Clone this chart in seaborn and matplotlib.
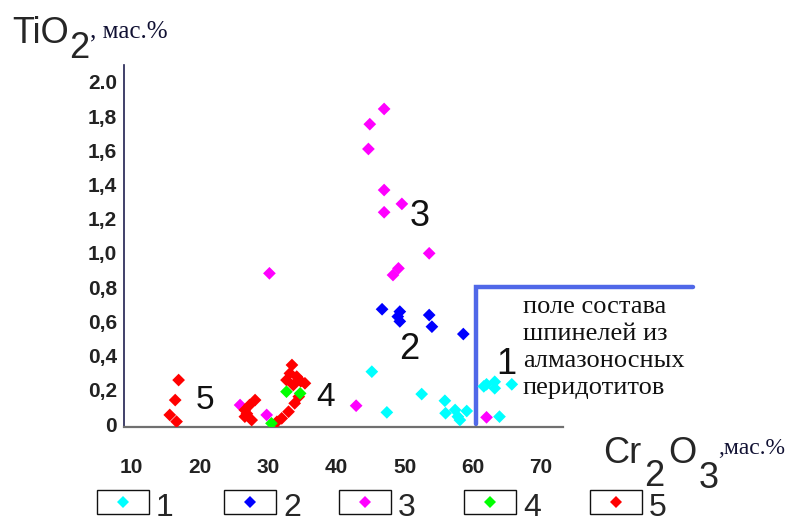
import numpy as np
import pandas as pd
import matplotlib
matplotlib.use("Agg")
import matplotlib.pyplot as plt
import seaborn as sns
from matplotlib.patches import Rectangle
from matplotlib.lines import Line2D

# Cr2O3 (x) and TiO2 (y), wt%
cr_1 = [45.2, 47.4, 52.5, 55.9, 56.0, 57.4, 57.8, 59.1, 58.1, 62.0, 63.2, 63.2, 65.7, 63.9, 61.6]
ti_1 = [0.306, 0.068, 0.175, 0.136, 0.063, 0.082, 0.043, 0.076, 0.023, 0.232, 0.247, 0.209, 0.232, 0.043, 0.22]
cr_2 = [46.7, 49.3, 49.0, 49.3, 53.6, 54.0, 58.6]
ti_2 = [0.671, 0.657, 0.628, 0.600, 0.637, 0.569, 0.526]
cr_3 = [47.0, 44.9, 44.7, 47.0, 49.6, 47.0, 53.6, 49.1, 48.3, 30.2, 42.9, 62.0, 25.9, 29.8]
ti_3 = [1.842, 1.753, 1.608, 1.368, 1.287, 1.238, 0.998, 0.910, 0.871, 0.881, 0.107, 0.039, 0.111, 0.053]
cr_4 = [32.7, 34.7, 30.5]
ti_4 = [0.189, 0.179, 0.004]
cr_5 = [16.9, 16.4, 15.6, 16.6, 26.6, 26.6, 27.3, 28.1, 27.6, 26.9,
        31.3, 32.0, 33.0, 33.9, 34.5, 32.7, 33.2, 33.5, 34.2, 35.4, 33.7, 34.8]
ti_5 = [0.257, 0.140, 0.053, 0.014, 0.082, 0.043, 0.111, 0.140, 0.023, 0.060,
        0.013, 0.033, 0.072, 0.121, 0.160, 0.257, 0.296, 0.345, 0.277, 0.238, 0.228, 0.250]

groups = ["1", "2", "3", "4", "5"]
colors = {"1": "#00FFFF", "2": "#0000FF", "3": "#FF00FF", "4": "#00FF00", "5": "#FF0000"}

x_ticks = [10, 20, 30, 40, 50, 60, 70]
y_ticks = [0, 0.2, 0.4, 0.6, 0.8, 1.0, 1.2, 1.4, 1.6, 1.8, 2.0]
y_labels = ["0", "0,2", "0,4", "0,6", "0,8", "1,0", "1,2", "1,4", "1,6", "1,8", "2.0"]

# field of diamond-bearing peridotites
field_x = [60.5, 60.5, 92.2]
field_y = [0.0, 0.8, 0.8]

frames = []
for g, xs, ys in [("1", cr_1, ti_1), ("2", cr_2, ti_2), ("3", cr_3, ti_3),
                  ("5", cr_5, ti_5), ("4", cr_4, ti_4)]:
    frames.append(pd.DataFrame({"cr": xs, "ti": ys, "group": g}))
df = pd.concat(frames, ignore_index=True)

sns.set_style("white")
plt.rcParams["font.family"] = ["Liberation Sans", "DejaVu Sans"]

W, H = 798, 523
fig = plt.figure(figsize=(W / 100, H / 100), dpi=100)
ax = fig.add_axes([124 / W, 1 - 427 / H, (563 - 124) / W, (427 - 65) / H])

sns.scatterplot(data=df, x="cr", y="ti", hue="group", palette=colors,
                marker="D", s=42, linewidth=0, legend=False, ax=ax, zorder=3)

ax.set_xlim(8.9, 73.2)
ax.set_ylim(-0.0175, 2.099)
ax.set_xlabel("")
ax.set_ylabel("")
ax.set_xticks(x_ticks)
ax.set_xticklabels([str(v) for v in x_ticks], fontsize=15, fontweight="bold",
                   color="#222222", family=["Liberation Sans Narrow", "Liberation Sans"])
ax.set_yticks(y_ticks)
ax.set_yticklabels(y_labels, fontsize=15, fontweight="bold", color="#222222")
ax.tick_params(axis="x", length=0, pad=22)
ax.tick_params(axis="y", length=0, pad=5)
for s in ["top", "right"]:
    ax.spines[s].set_visible(False)
ax.spines["left"].set_color("#202050")
ax.spines["left"].set_linewidth(1.2)
ax.spines["bottom"].set_color("#707070")
ax.spines["bottom"].set_linewidth(1.6)
ax.grid(False)

ax.plot(field_x, field_y, color="#5068E8", lw=3.2, clip_on=False,
        solid_joinstyle="miter", zorder=2)
ax.text(67.3, (424 - 296) / 171, "поле состава\nшпинелей из\nалмазоносных\nперидотитов",
        family="Liberation Serif", fontsize=19, color="#111111",
        ha="left", va="top", linespacing=1.3)

# group numbers
for lab, gx, gy, fs in [("3", 52.2, 1.155, 26), ("2", 50.7, 0.38, 26), ("1", 64.9, 0.295, 26),
                        ("5", 20.8, 0.085, 24), ("4", 38.4, 0.103, 24)]:
    ax.text(gx, gy, lab, fontsize=fs, ha="center", va="baseline", color="#111111")


def ftext(px, py, s, **kw):
    fig.text(px / W, 1 - py / H, s, va="baseline", ha="left", **kw)


# axis titles
ftext(12, 43, "TiO", fontsize=26)
ftext(69, 58, "2", fontsize=26)
ftext(90, 37, ", мас.%", fontsize=18, family="Liberation Serif", color="#111133")
ftext(603, 463, "Cr", fontsize=26)
ftext(644, 486, "2", fontsize=26)
ftext(668, 463, "O", fontsize=26)
ftext(699, 488, "3", fontsize=26)
ftext(718, 454, ",мас.%", fontsize=17, family="Liberation Serif", color="#111133")

# legend
box_left = [97, 224, 339, 464, 590]
for g, bl in zip(groups, box_left):
    fig.add_artist(Rectangle((bl / W, 1 - 514 / H), 52 / W, 24 / H, fill=False,
                             edgecolor="#111111", lw=1.0, transform=fig.transFigure))
    fig.add_artist(Line2D([(bl + 26) / W], [1 - 502 / H], marker="D", ms=6.5, mew=0,
                          color=colors[g], transform=fig.transFigure))
    ftext(bl + 59, 516, g, fontsize=23)

fig.savefig("out.png", dpi=100)
